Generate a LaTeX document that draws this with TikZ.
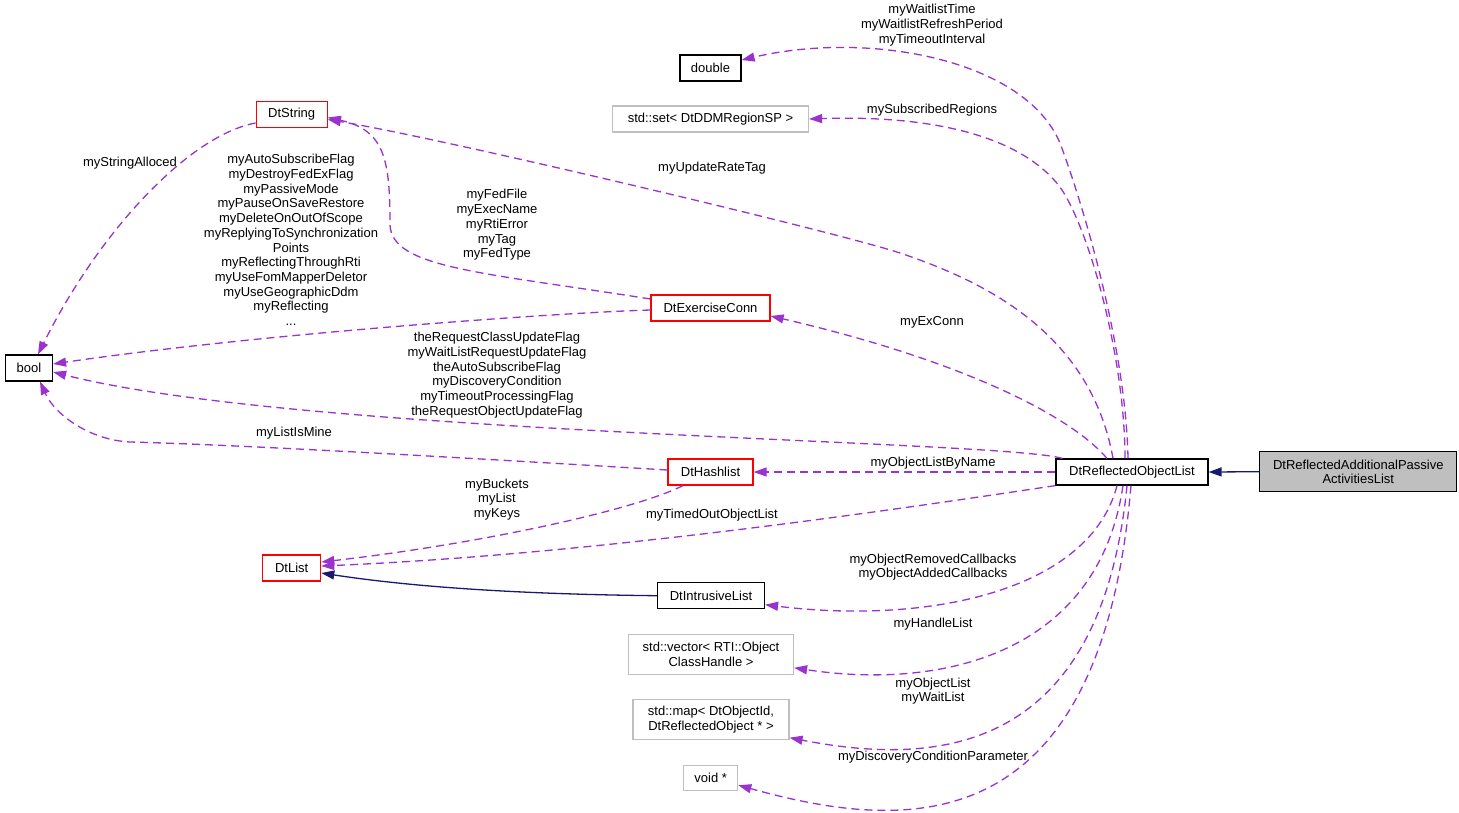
\documentclass[tikz,border=0pt]{standalone}
\usepackage{fontspec}
\setmainfont{Liberation Sans}
\usetikzlibrary{arrows.meta}
\definecolor{memberedge}{HTML}{9A32CD}
\definecolor{baseedge}{HTML}{191970}
\definecolor{extgray}{HTML}{BFBFBF}
\tikzset{
  cls/.style={draw=black, line width=1.2pt, fill=white, inner sep=0pt, font=\fontsize{13pt}{14.7pt}\selectfont, align=center},
  clsred/.style={cls, draw=red},
  clsext/.style={cls, draw=extgray},
  clsmain/.style={cls, fill=extgray},
  lbl/.style={inner sep=0pt, font=\fontsize{13pt}{14.7pt}\selectfont, align=center},
  usage/.style={memberedge, line width=1.3pt, dash pattern=on 8pt off 5pt, -{Triangle[length=13pt,width=9pt]}},
  inherit/.style={baseedge, line width=1.3pt, -{Triangle[length=13pt,width=9pt]}},
}
\begin{document}
\begin{tikzpicture}[x=1pt,y=-1pt]
    \useasboundingbox (0,0) rectangle (1459,812);

    \node[clsmain, minimum width=197pt, minimum height=40pt] (main) at (1358.3, 471.7) {DtReflectedAdditionalPassive\\ActivitiesList};
    \node[cls, minimum width=152pt, minimum height=26pt] (rol) at (1132, 472) {DtReflectedObjectList};
    \node[cls, minimum width=61pt, minimum height=26pt] (dbl) at (710.5, 68) {double};
    \node[clsext, minimum width=196pt, minimum height=26pt] (set) at (710.5, 119) {std::set< DtDDMRegionSP >};
    \node[clsred, minimum width=71pt, minimum height=26pt] (str) at (291.7, 114.5) {DtString};
    \node[clsred, minimum width=119pt, minimum height=26pt] (conn) at (710.5, 308) {DtExerciseConn};
    \node[cls, minimum width=47pt, minimum height=26pt] (bool) at (29, 368) {bool};
    \node[clsred, minimum width=85pt, minimum height=26pt] (hash) at (710.5, 472) {DtHashlist};
    \node[clsred, minimum width=58pt, minimum height=26pt] (lst) at (291.7, 568) {DtList};
    \node[cls, minimum width=107pt, minimum height=26pt] (ilst) at (711, 595.7) {DtIntrusiveList};
    \node[clsext, minimum width=165pt, minimum height=40pt] (vec) at (711, 654.3) {std::vector< RTI::Object\\ClassHandle >};
    \node[clsext, minimum width=156pt, minimum height=40pt] (map) at (711, 719.7) {std::map< DtObjectId,\\DtReflectedObject * >};
    \node[clsext, minimum width=54pt, minimum height=25pt] (vd) at (710.7, 778.2) {void *};

    % inheritance
    \draw[inherit] (main.west) -- (rol.east);
    \draw[inherit] (ilst.west) .. controls (500,594) and (400,585) .. ([yshift=-5pt]lst.east);

    % members of DtReflectedObjectList
    \draw[usage] ([xshift=-4pt]rol.north) .. controls (1126,350) and (1085,210) .. (1060,143)
        .. controls (1025,60) and (870,30) .. ([yshift=8pt]dbl.east);
    \draw[usage] ([xshift=-7pt]rol.north) .. controls (1125,360) and (1090,230) .. (1060,187)
        .. controls (1020,135) and (930,115) .. (set.east);
    \draw[usage] ([xshift=-19pt]rol.north) .. controls (1090,330) and (980,280) .. (900,253)
        .. controls (840,233) and (450,140) .. ([yshift=-5pt]str.east);
    \draw[usage] ([xshift=-25pt]rol.north) .. controls (1070,415) and (960,360) .. ([yshift=-8pt]conn.east);
    \draw[usage] ([xshift=7pt]rol.north west) .. controls (1000,440) and (300,435) .. ([yshift=-4pt]bool.east);
    \draw[usage] (rol.west) -- (hash.east);
    \draw[usage] (rol.south west) .. controls (860,515) and (580,555) .. ([yshift=2pt]lst.east);
    \draw[usage] ([xshift=-15pt]rol.south) .. controls (1090,590) and (930,625) .. ([yshift=-9pt]ilst.east);
    \draw[usage] ([xshift=-9pt]rol.south) .. controls (1098,655) and (940,690) .. ([yshift=-13.5pt]vec.east);
    \draw[usage] ([xshift=-5pt]rol.south) .. controls (1100,760) and (930,765) .. ([yshift=-18pt]map.east);
    \draw[usage] ([xshift=-1pt]rol.south) .. controls (1100,850) and (900,830) .. ([yshift=-7pt]vd.east);

    % other members
    \draw[usage] ([yshift=-2pt]conn.west) .. controls (550,313) and (250,335) .. ([yshift=4pt]bool.east);
    \draw[usage] ([yshift=9pt]conn.west) .. controls (480,272) and (392,268) .. (390,225)
        .. controls (390,160) and (385,130) .. ([yshift=-3pt]str.east);
    \draw[usage] ([yshift=-8.5pt]str.west) .. controls (190,135) and (100,230) .. ([xshift=9pt]bool.north);
    \draw[usage] ([yshift=2pt]hash.west) .. controls (500,460) and (250,445) .. (130,442)
        .. controls (90,440) and (55,415) .. ([xshift=11pt]bool.south);
    \draw[usage] ([xshift=-27.5pt]hash.south) .. controls (630,512) and (470,545) .. ([yshift=6pt]lst.east);

    \node[lbl] (lwait) at (932, 25) {myWaitlistTime\\myWaitlistRefreshPeriod\\myTimeoutInterval};
    \node[lbl] (lregions) at (932, 110) {mySubscribedRegions};
    \node[lbl] (lrate) at (712, 168) {myUpdateRateTag};
    \node[lbl] (lexconn) at (932, 322) {myExConn};
    \node[lbl] (lflags) at (291, 240) {myAutoSubscribeFlag\\myDestroyFedExFlag\\myPassiveMode\\myPauseOnSaveRestore\\myDeleteOnOutOfScope\\myReplyingToSynchronization\\Points\\myReflectingThroughRti\\myUseFomMapperDeletor\\myUseGeographicDdm\\myReflecting\\...};
    \node[lbl] (lfed) at (497, 225) {myFedFile\\myExecName\\myRtiError\\myTag\\myFedType};
    \node[lbl] (lalloc) at (130, 163) {myStringAlloced};
    \node[lbl] (lrequest) at (497, 375) {theRequestClassUpdateFlag\\myWaitListRequestUpdateFlag\\theAutoSubscribeFlag\\myDiscoveryCondition\\myTimeoutProcessingFlag\\theRequestObjectUpdateFlag};
    \node[lbl] (lmine) at (294, 433) {myListIsMine};
    \node[lbl] (lbuckets) at (497, 499.5) {myBuckets\\myList\\myKeys};
    \node[lbl] (lbyname) at (933, 463) {myObjectListByName};
    \node[lbl] (ltimed) at (712, 515) {myTimedOutObjectList};
    \node[lbl] (lcallbacks) at (933, 567) {myObjectRemovedCallbacks\\myObjectAddedCallbacks};
    \node[lbl] (lhandle) at (933, 624) {myHandleList};
    \node[lbl] (lobjlist) at (933, 691) {myObjectList\\myWaitList};
    \node[lbl] (ldisc) at (933, 757) {myDiscoveryConditionParameter};

\end{tikzpicture}
\end{document}
